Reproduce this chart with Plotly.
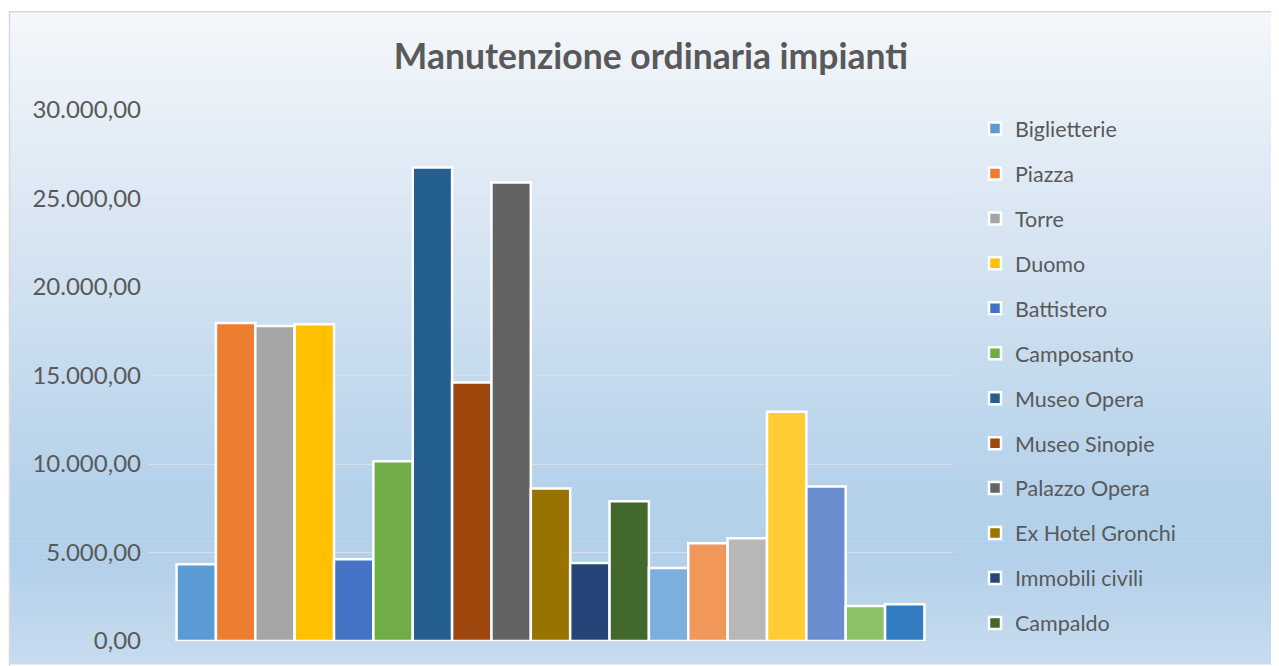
import plotly.graph_objects as go

# ---- data ----
series_names = [
    "Biglietterie", "Piazza", "Torre", "Duomo", "Battistero", "Camposanto",
    "Museo Opera", "Museo Sinopie", "Palazzo Opera", "Ex Hotel Gronchi",
    "Immobili civili", "Campaldo",
    "Serie 13", "Serie 14", "Serie 15", "Serie 16", "Serie 17", "Serie 18", "Serie 19",
]
series_values = [
    4330, 17960, 17800, 17900, 4620, 10150,
    26750, 14600, 25900, 8620, 4400, 7900,
    4120, 5520, 5800, 12950, 8730, 1980, 2080,
]
series_colors = [
    "#5B9BD5", "#ED7D31", "#A5A5A5", "#FFC000", "#4472C4", "#70AD47",
    "#255E91", "#9E480E", "#636363", "#997300", "#264478", "#43682B",
    "#7CAFDD", "#F1975A", "#B7B7B7", "#FFCD33", "#698ED0", "#8CC168", "#327DC2",
]
legend_visible = [True] * 12 + [False] * 7
category = [""]

OFF = 8  # page body margin
W, H = 1279 - OFF, 666 - OFF
L, R, T, B = 148 - OFF, 953 - OFF, 110 - OFF, 643 - OFF  # plot area in figure px

fig = go.Figure()
for i, (n, v, c) in enumerate(zip(series_names, series_values, series_colors)):
    fig.add_trace(go.Bar(
        x=category, y=[v], name=n,
        marker=dict(color=c, line=dict(color="white", width=2.5)),
        showlegend=legend_visible[i], legendgroup=n,
    ))

# ---- gradient background for chart area (page px -> paper coords) ----
def px2x(px):
    return (px - OFF - L) / (R - L)

def px2y(py):
    return (B - (py - OFF)) / (B - T)

stops = [(11, (0xF4, 0xF7, 0xFB)), (300, (0xCF, 0xE0, 0xF0)),
         (500, (0xB4, 0xD1, 0xEA)), (570, (0xB3, 0xD0, 0xEA)), (666, (0xC8, 0xDC, 0xEF))]

def col_at(py):
    for (y0, c0), (y1, c1) in zip(stops[:-1], stops[1:]):
        if y0 <= py <= y1:
            t = (py - y0) / (y1 - y0)
            return "rgb(%d,%d,%d)" % tuple(round(a + (b - a) * t) for a, b in zip(c0, c1))
    return "rgb(%d,%d,%d)" % stops[-1][1]

shapes = []
step = 4
y = 11
while y < 666:
    y2 = min(y + step, 666)
    shapes.append(dict(type="rect", xref="paper", yref="paper", layer="below",
                       x0=px2x(9), x1=px2x(1290), y0=px2y(y2 + 0.5), y1=px2y(y),
                       fillcolor=col_at(y + step / 2), line=dict(width=0)))
    y = y2
shapes.append(dict(type="rect", xref="paper", yref="paper", layer="below",
                   x0=px2x(9.5), x1=px2x(1295), y0=px2y(680), y1=px2y(11.5),
                   fillcolor="rgba(0,0,0,0)", line=dict(color="#d9d9d9", width=1.5)))

fig.update_layout(
    width=W, height=H,
    margin=dict(l=L, r=W - R, t=T, b=H - B),
    paper_bgcolor="white", plot_bgcolor="rgba(0,0,0,0)",
    barmode="group", bargap=0.071, bargroupgap=0,
    separators=",.",
    font=dict(family="Lato", color="#595959"),
    title=dict(text="<b>Manutenzione ordinaria impianti</b>", x=(651 - OFF) / W, xref="container",
               y=1 - (57 - OFF) / H, yref="container", xanchor="center", yanchor="middle",
               font=dict(family="Lato", size=35.5, color="#595959")),
    xaxis=dict(showticklabels=False, showgrid=False, zeroline=False, showline=False),
    yaxis=dict(range=[0, 30000], dtick=5000, tickformat=",.2f",
               gridcolor="#d9dfe6", gridwidth=1, zeroline=False, showline=False,
               tickfont=dict(family="Lato", size=24, color="#595959"), ticklen=0,
               ticks="", ticklabelstandoff=6),
    legend=dict(x=px2x(975), xanchor="left", y=px2y(108), yanchor="top",
                font=dict(family="Lato", size=21.5, color="#595959"),
                bgcolor="rgba(0,0,0,0)", tracegroupgap=14, traceorder="grouped",
                maxheight=620),
    shapes=shapes,
)

fig.write_html("out.html")
